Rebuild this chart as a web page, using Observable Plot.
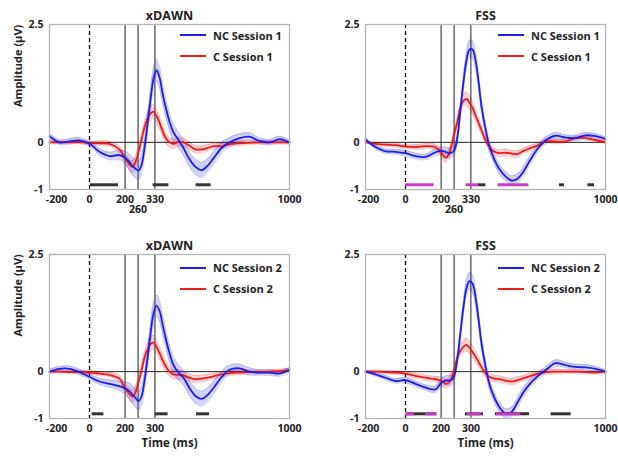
<!DOCTYPE html>
<html><head><meta charset="utf-8">
<script src="https://cdn.jsdelivr.net/npm/d3@7"></script>
<script src="https://cdn.jsdelivr.net/npm/@observablehq/plot@0.6"></script>
<style>
body{margin:0;background:#fff;}
#wrap{position:relative;width:618px;height:457px;overflow:hidden;font-family:"Open Sans",sans-serif;}
.panel{position:absolute;}
.legend{position:absolute;font:bold 11px "Open Sans",sans-serif;color:#222;}
.legend .row{display:flex;align-items:center;height:21px;white-space:nowrap;}
.legend .sw{width:26px;height:0;border-top:2px solid;margin-right:7px;}
</style></head><body><div id="wrap"></div><script>
// time grid (ms)
const times = [-200,-150,-100,-50,0,50,100,150,180,200,215,230,245,260,275,290,305,320,335,350,365,380,400,420,445,470,500,530,560,590,620,660,700,750,800,850,900,950,1000];
// mean amplitudes (µV)
const xdawnS1NC = [0.13,0.0,0.02,0.04,-0.03,-0.2,-0.29,-0.27,-0.33,-0.42,-0.5,-0.56,-0.6,-0.48,-0.12,0.38,0.9,1.35,1.53,1.38,1.05,0.76,0.44,0.21,0.05,-0.12,-0.36,-0.52,-0.59,-0.5,-0.34,-0.12,0.0,0.09,0.12,0.03,0.0,0.07,0.0];
const xdawnS1C  = [0.0,0.0,0.0,0.01,-0.02,-0.02,-0.03,-0.15,-0.35,-0.47,-0.52,-0.42,-0.2,0.05,0.32,0.5,0.61,0.65,0.56,0.42,0.25,0.1,0.0,-0.03,0.01,0.0,-0.07,-0.15,-0.15,-0.12,-0.08,-0.08,-0.04,-0.02,-0.01,0.0,0.0,0.0,0.0];
const fssS1NC   = [0.06,-0.1,-0.19,-0.2,-0.23,-0.29,-0.31,-0.21,-0.18,-0.2,-0.23,-0.22,-0.16,0.12,0.7,1.28,1.74,1.97,1.97,1.75,1.3,0.77,0.29,-0.09,-0.37,-0.57,-0.72,-0.81,-0.77,-0.62,-0.4,-0.14,0.04,0.14,0.1,0.09,0.15,0.13,0.07];
const fssS1C    = [0.0,-0.03,-0.05,-0.06,-0.09,-0.1,-0.08,-0.1,-0.22,-0.33,-0.27,-0.07,0.2,0.45,0.74,0.88,0.92,0.84,0.73,0.57,0.42,0.26,0.05,-0.1,-0.2,-0.23,-0.22,-0.24,-0.25,-0.18,-0.13,-0.07,0.02,0.02,0.02,0.09,0.09,0.05,0.0];
const xdawnS2NC = [0.0,0.06,0.06,-0.01,-0.11,-0.21,-0.26,-0.31,-0.36,-0.42,-0.49,-0.56,-0.63,-0.53,-0.2,0.28,0.8,1.24,1.41,1.3,1.02,0.73,0.4,0.14,-0.02,-0.13,-0.35,-0.52,-0.58,-0.5,-0.35,-0.12,0.04,0.07,0.0,-0.02,-0.02,-0.04,0.04];
const xdawnS2C  = [0.0,0.0,-0.01,-0.01,-0.02,-0.04,-0.07,-0.15,-0.36,-0.48,-0.53,-0.44,-0.22,0.02,0.3,0.47,0.59,0.62,0.53,0.4,0.25,0.12,0.0,-0.06,-0.07,-0.08,-0.13,-0.16,-0.15,-0.13,-0.1,-0.06,-0.03,-0.02,-0.01,-0.01,0.0,0.01,0.04];
const fssS2NC   = [0.0,-0.06,-0.13,-0.2,-0.18,-0.26,-0.34,-0.38,-0.23,-0.19,-0.19,-0.18,-0.07,0.3,0.84,1.38,1.78,1.93,1.88,1.6,1.13,0.61,0.12,-0.27,-0.56,-0.76,-0.89,-0.86,-0.66,-0.44,-0.27,-0.1,0.03,0.18,0.14,0.1,0.09,0.06,0.0];
const fssS2C    = [0.0,0.0,-0.01,-0.02,-0.04,-0.09,-0.13,-0.16,-0.2,-0.26,-0.24,-0.14,0.05,0.3,0.45,0.53,0.57,0.51,0.42,0.32,0.21,0.1,-0.04,-0.11,-0.15,-0.16,-0.19,-0.21,-0.18,-0.14,-0.1,-0.05,-0.01,0.0,0.0,0.0,-0.01,-0.02,0.0];
// standard error half-widths
const xdawnNCse = [0.05,0.05,0.06,0.06,0.05,0.07,0.08,0.1,0.14,0.17,0.19,0.2,0.2,0.19,0.18,0.19,0.21,0.23,0.23,0.22,0.2,0.19,0.18,0.18,0.17,0.16,0.16,0.16,0.16,0.15,0.14,0.12,0.1,0.09,0.08,0.06,0.06,0.06,0.05];
const xdawnCse  = [0.03,0.03,0.03,0.04,0.04,0.05,0.05,0.07,0.1,0.12,0.13,0.13,0.12,0.12,0.12,0.13,0.15,0.15,0.14,0.13,0.12,0.11,0.1,0.1,0.1,0.09,0.08,0.08,0.08,0.07,0.06,0.06,0.05,0.05,0.04,0.04,0.04,0.04,0.03];
const fssNCse   = [0.03,0.04,0.05,0.05,0.06,0.06,0.06,0.07,0.08,0.1,0.11,0.11,0.1,0.1,0.12,0.14,0.17,0.19,0.19,0.17,0.15,0.13,0.12,0.11,0.1,0.1,0.1,0.1,0.1,0.1,0.09,0.08,0.07,0.07,0.06,0.06,0.06,0.05,0.04];
const fssCse    = [0.02,0.03,0.03,0.04,0.04,0.05,0.05,0.06,0.08,0.1,0.1,0.09,0.08,0.09,0.11,0.13,0.14,0.14,0.13,0.11,0.1,0.09,0.08,0.07,0.07,0.07,0.07,0.07,0.07,0.06,0.06,0.05,0.05,0.05,0.04,0.04,0.04,0.03,0.03];
// significance intervals (ms)
const xdawnS1Black = [[5,145],[318,397],[533,608]];
const fssS1Black   = [[365,402],[770,795],[912,945]];
const fssS1Magenta = [[0,143],[303,365],[463,617]];
const xdawnS2Black = [[13,72],[330,393],[535,600]];
const fssS2Black   = [[3,157],[300,390],[450,620],[728,828]];
const fssS2Magenta = [[3,45],[100,157],[310,380],[455,577]];
const sigLevel = -0.9;
// marker lines and their labels
const markerTimes = [178, 243, 327];
const markerLabelsS1 = ["200","260","330"];
const markerLabelsS2 = ["200","","300"];
const markerRows = [1, 2, 1];
const yTicks = [-1, 0, 2.5];
const xTicksPlain = [0, 1000];
const xTickFirst = -200;

const BLUE = "#1c1ced", RED = "#ef1a1a", MAG = "#c63bc6";

const panels = [
  {left:0,   top:0,   height:228, mt:24, mb:39, ml:49, mr:20, title:"xDAWN", nc:xdawnS1NC, c:xdawnS1C, ncSe:xdawnNCse, cSe:xdawnCse, black:xdawnS1Black, magenta:[], labels:markerLabelsS1, mStroke:"#707070", mWidth:1.6, yLabel:true, xLabel:false, s:"1", tickDy:13, minusDx:7, legLeft:180, legTop:24.5},
  {left:309, top:0,   height:228, mt:24, mb:39, ml:56, mr:13, title:"FSS",   nc:fssS1NC,   c:fssS1C,   ncSe:fssNCse,   cSe:fssCse,   black:fssS1Black,   magenta:fssS1Magenta, labels:markerLabelsS1, mStroke:"#222", mWidth:1, yLabel:false, xLabel:false, s:"1", tickDy:13, minusDx:3, legLeft:498, legTop:24.5},
  {left:0,   top:228, height:229, mt:26, mb:39, ml:49, mr:20, title:"xDAWN", nc:xdawnS2NC, c:xdawnS2C, ncSe:xdawnNCse, cSe:xdawnCse, black:xdawnS2Black, magenta:[], labels:markerLabelsS2, mStroke:"#707070", mWidth:1.6, yLabel:true, xLabel:true, s:"2", tickDy:13, minusDx:7, legLeft:180, legTop:257},
  {left:309, top:228, height:229, mt:26, mb:39, ml:56, mr:13, title:"FSS",   nc:fssS2NC,   c:fssS2C,   ncSe:fssNCse,   cSe:fssCse,   black:fssS2Black,   magenta:fssS2Magenta, labels:markerLabelsS2, mStroke:"#222", mWidth:1, yLabel:false, xLabel:true, s:"2", tickDy:13, minusDx:3, legLeft:498, legTop:257}
];

const wrap = document.getElementById("wrap");
const curve = "catmull-rom";

for (const p of panels) {
  const ncRows = times.map((t,i)=>({t, v:p.nc[i], lo:p.nc[i]-p.ncSe[i], hi:p.nc[i]+p.ncSe[i]}));
  const cRows  = times.map((t,i)=>({t, v:p.c[i],  lo:p.c[i]-p.cSe[i],  hi:p.c[i]+p.cSe[i]}));
  const markers = markerTimes.map((t,i)=>({t, label:p.labels[i], row:markerRows[i]}));
  const row1 = xTicksPlain.map(t=>({t, label:String(t)})).concat(markers.filter(m=>m.row===1 && m.label));
  const row2 = markers.filter(m=>m.row===2 && m.label);
  const marks = [
    Plot.areaY(cRows,  {x:"t", y1:"lo", y2:"hi", fill:RED,  fillOpacity:0.2, curve}),
    Plot.areaY(ncRows, {x:"t", y1:"lo", y2:"hi", fill:BLUE, fillOpacity:0.2, curve}),
    Plot.line(cRows,  {x:"t", y:"lo", stroke:RED,  strokeOpacity:0.2, strokeWidth:1, curve}),
    Plot.line(cRows,  {x:"t", y:"hi", stroke:RED,  strokeOpacity:0.2, strokeWidth:1, curve}),
    Plot.line(ncRows, {x:"t", y:"lo", stroke:BLUE, strokeOpacity:0.2, strokeWidth:1, curve}),
    Plot.line(ncRows, {x:"t", y:"hi", stroke:BLUE, strokeOpacity:0.2, strokeWidth:1, curve}),
    Plot.ruleX(markers, {x:"t", stroke:p.mStroke, strokeWidth:p.mWidth}),
    Plot.ruleX([0], {stroke:"#000", strokeWidth:1.3, strokeDasharray:"4,3"}),
    Plot.ruleY([0], {stroke:"#222", strokeWidth:1}),
    Plot.line(cRows,  {x:"t", y:"v", stroke:RED,  strokeWidth:1.8, curve}),
    Plot.line(ncRows, {x:"t", y:"v", stroke:BLUE, strokeWidth:1.8, curve}),
    Plot.ruleY(p.black,   {x1:d=>d[0], x2:d=>d[1], y:()=>sigLevel, stroke:"#333", strokeWidth:3}),
    Plot.ruleY(p.magenta, {x1:d=>d[0], x2:d=>d[1], y:()=>sigLevel, stroke:MAG, strokeWidth:3}),
    Plot.frame({stroke:"#b4b4b4", strokeWidth:1.3}),
    Plot.axisY(yTicks, {tickSize:0, tickPadding:6, tickFormat:d=>String(d), label:null, fontSize:10.5}),
    Plot.text([xTickFirst], {x:d=>d, text:d=>String(d), frameAnchor:"bottom", dy:p.tickDy, dx:p.minusDx, fontSize:10.5}),
    Plot.text(row1, {x:"t", text:"label", frameAnchor:"bottom", dy:p.tickDy, fontSize:10.5}),
    Plot.text(row2, {x:"t", text:"label", frameAnchor:"bottom", dy:p.tickDy+10, fontSize:10.5}),
    Plot.text([p.title], {text:d=>d, frameAnchor:"top", dy:-13, fontSize:12.5})
  ];
  if (p.xLabel) marks.push(Plot.text(["Time (ms)"], {text:d=>d, frameAnchor:"bottom", dy:28, fontSize:11.5}));
  if (p.yLabel) marks.push(Plot.text(["Amplitude (\u03bcV)"], {text:d=>d, frameAnchor:"left", dx:-31, rotate:-90, fontSize:11}));

  const chart = Plot.plot({
    width:309, height:p.height,
    marginTop:p.mt, marginBottom:p.mb, marginLeft:p.ml, marginRight:p.mr,
    x:{domain:[-200,1000], axis:null},
    y:{domain:[-1,2.5], axis:null},
    style:{fontFamily:"'Open Sans', sans-serif", fontSize:"11px", fontWeight:"bold", color:"#222", background:"transparent"},
    marks
  });
  chart.classList.add("panel");
  chart.style.left = p.left + "px";
  chart.style.top = p.top + "px";
  wrap.appendChild(chart);

  const leg = document.createElement("div");
  leg.className = "legend";
  leg.style.left = p.legLeft + "px";
  leg.style.top = p.legTop + "px";
  for (const [col, name] of [[BLUE, "NC Session " + p.s], [RED, "C Session " + p.s]]) {
    const r = document.createElement("div"); r.className = "row";
    const sw = document.createElement("span"); sw.className = "sw"; sw.style.borderTopColor = col;
    const tx = document.createElement("span"); tx.textContent = name;
    r.appendChild(sw); r.appendChild(tx); leg.appendChild(r);
  }
  wrap.appendChild(leg);
}
</script></body></html>
